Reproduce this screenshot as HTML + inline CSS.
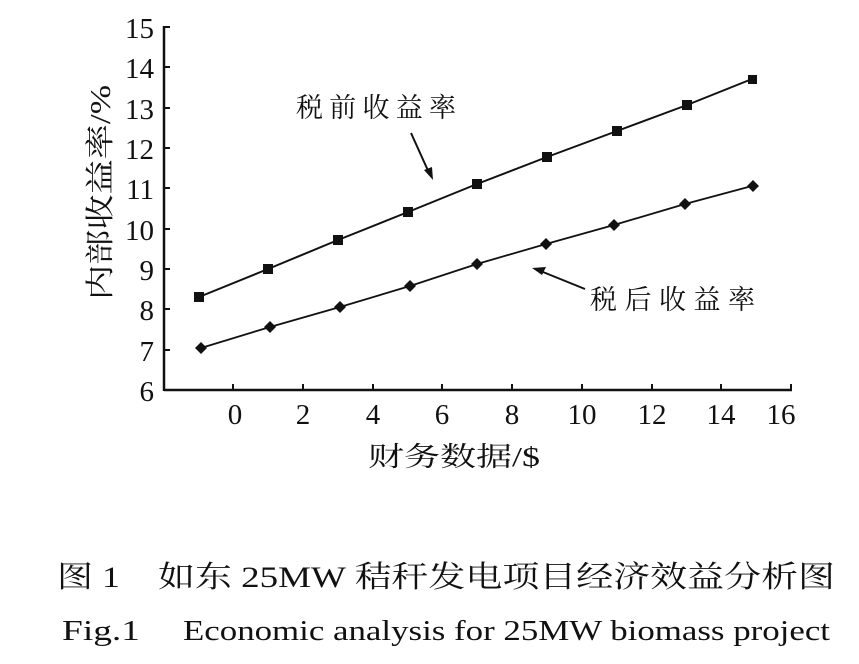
<!DOCTYPE html>
<html><head><meta charset="utf-8"><style>
html,body{margin:0;padding:0;background:#fff;}
svg{display:block}
text{font-family:"Liberation Serif","Noto Serif CJK SC",serif;fill:#111}
</style></head><body>
<svg width="859" height="664" viewBox="0 0 859 664" xmlns="http://www.w3.org/2000/svg">
<g stroke="#111" stroke-width="2.5" fill="none">
<line x1="164" y1="26" x2="164" y2="391"/>
<line x1="164" y1="390" x2="792" y2="390"/>
</g>
<g stroke="#111" stroke-width="2">
<line x1="164" y1="27" x2="170" y2="27"/><line x1="164" y1="67" x2="170" y2="67"/><line x1="164" y1="108" x2="170" y2="108"/><line x1="164" y1="148" x2="170" y2="148"/><line x1="164" y1="188" x2="170" y2="188"/><line x1="164" y1="229" x2="170" y2="229"/><line x1="164" y1="269" x2="170" y2="269"/><line x1="164" y1="309" x2="170" y2="309"/><line x1="164" y1="350" x2="170" y2="350"/>
<line x1="233" y1="384" x2="233" y2="390"/><line x1="303" y1="384" x2="303" y2="390"/><line x1="373" y1="384" x2="373" y2="390"/><line x1="442" y1="384" x2="442" y2="390"/><line x1="512" y1="384" x2="512" y2="390"/><line x1="582" y1="384" x2="582" y2="390"/><line x1="652" y1="384" x2="652" y2="390"/><line x1="721" y1="384" x2="721" y2="390"/><line x1="791" y1="384" x2="791" y2="390"/>
</g>
<g font-size="29" text-anchor="end">
<text x="154" y="38">15</text><text x="154" y="78">14</text><text x="154" y="119">13</text><text x="154" y="159">12</text><text x="154" y="199">11</text><text x="154" y="240">10</text><text x="154" y="280">9</text><text x="154" y="320">8</text><text x="154" y="361">7</text><text x="154" y="401">6</text>
</g>
<g font-size="29" text-anchor="middle">
<text x="235" y="424">0</text><text x="303" y="424">2</text><text x="373" y="424">4</text><text x="442" y="424">6</text><text x="512" y="424">8</text><text x="582" y="424">10</text><text x="652" y="424">12</text><text x="721" y="424">14</text><text x="781" y="424">16</text>
</g>
<polyline fill="none" stroke="#111" stroke-width="2" points="199,297 268,269 338,240 408,212 477,184 547,157 617,131 687,105 752,79"/>
<g fill="#111">
<rect x="194" y="292" width="10" height="10"/><rect x="263" y="264" width="10" height="10"/><rect x="333" y="235" width="10" height="10"/><rect x="403" y="207" width="10" height="10"/><rect x="472" y="179" width="10" height="10"/><rect x="542" y="152" width="10" height="10"/><rect x="612" y="126" width="10" height="10"/><rect x="682" y="100" width="10" height="10"/><rect x="748" y="75" width="9" height="9"/>
</g>
<polyline fill="none" stroke="#111" stroke-width="1.8" points="201,348 270,327 340,307 410,286 477,264 546,244 614,225 685,204 752,186"/>
<g fill="#111">
<path d="M201 342l6 6-6 6-6-6z"/><path d="M270 321l6 6-6 6-6-6z"/><path d="M340 301l6 6-6 6-6-6z"/><path d="M410 280l6 6-6 6-6-6z"/><path d="M477 258l6 6-6 6-6-6z"/><path d="M546 238l6 6-6 6-6-6z"/><path d="M614 219l6 6-6 6-6-6z"/><path d="M685 198l6 6-6 6-6-6z"/><path d="M753 180l6 6-6 6-6-6z"/>
</g>
<text x="296" y="117" font-size="27" textLength="160" lengthAdjust="spacing">税前收益率</text>
<line x1="411" y1="133" x2="430" y2="175" stroke="#111" stroke-width="2"/>
<path d="M433 180l-9-10 8-3z" fill="#111"/>
<text x="590" y="309" font-size="27" textLength="165" lengthAdjust="spacing">税后收益率</text>
<line x1="585" y1="289" x2="538" y2="270" stroke="#111" stroke-width="2"/>
<path d="M532 268l14-1-4 8z" fill="#111"/>
<text transform="translate(110,300) rotate(-90)" font-size="29" textLength="215" lengthAdjust="spacingAndGlyphs">内部收益率/%</text>
<text x="368" y="466" font-size="27" textLength="172" lengthAdjust="spacingAndGlyphs">财务数据/$</text>
<text x="57" y="587" font-size="30" textLength="63" lengthAdjust="spacingAndGlyphs">图 1</text>
<text x="158" y="587" font-size="30" textLength="677" lengthAdjust="spacingAndGlyphs">如东 25MW 秸秆发电项目经济效益分析图</text>
<text x="62" y="640" font-size="29" textLength="78" lengthAdjust="spacingAndGlyphs">Fig.1</text>
<text x="183" y="640" font-size="29" textLength="647" lengthAdjust="spacingAndGlyphs">Economic analysis for 25MW biomass project</text>
</svg>
</body></html>
